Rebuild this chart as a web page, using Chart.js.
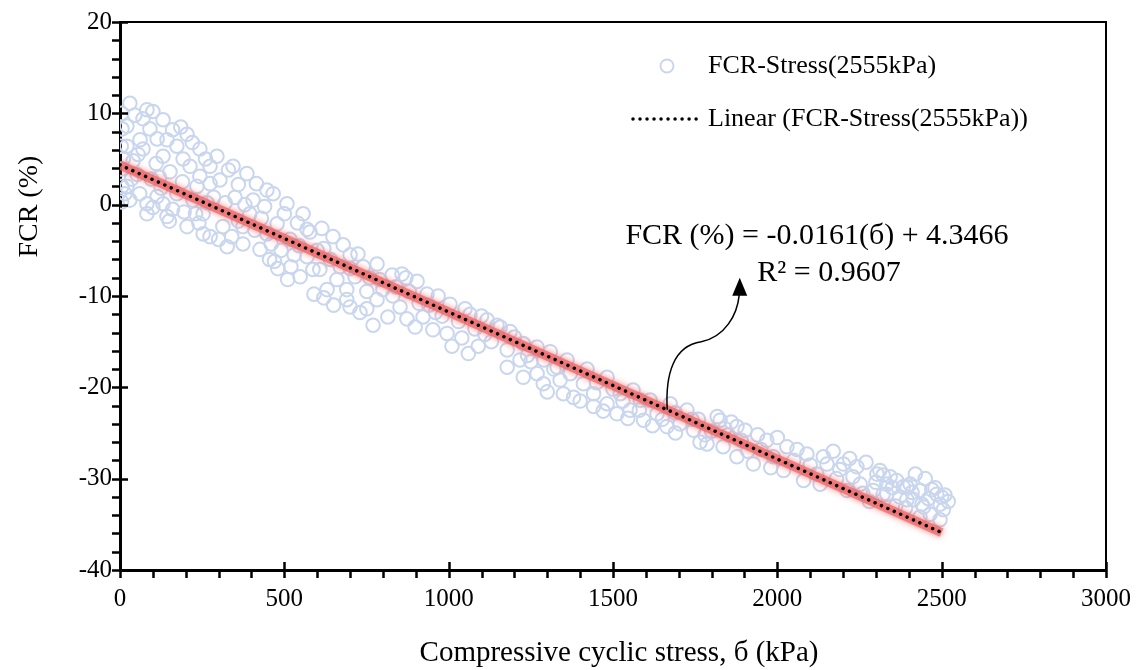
<!DOCTYPE html>
<html>
<head>
<meta charset="utf-8">
<script src="https://cdn.jsdelivr.net/npm/chart.js@4.4.1/dist/chart.umd.min.js"></script>
<style>
  html, body { margin: 0; padding: 0; background: #ffffff; }
  #wrap { width: 1140px; height: 670px; position: relative; }
</style>
</head>
<body>
<div id="wrap"><canvas id="c" width="1140" height="670"></canvas></div>
<script>
// ---- data ----
const stressX = [
  5,6,4,5,6,5,30,82,70,21,91,61,21,70,52,21,30,82,82,40,60,95,
  10,15,45,100,55,35,110,125,160,185,220,260,230,285,240,195,100,150,
  131,113,204,143,173,243,131,192,295,213,274,152,243,131,143,113,173,222,204,253,253,274,234,274,160,190,120,265,
  344,386,304,447,466,405,508,313,326,374,374,426,447,478,517,350,320,395,430,490,540,360,415,530,470,480,510,455,
  330,360,380,410,440,460,500,520,545,300,340,
  557,569,578,614,648,679,724,782,828,858,569,608,630,690,690,751,782,815,852,873,898,660,715,751,800,587,548,600,640,700,760,830,880,590,650,730,770,
  620,670,700,740,790,840,870,910,960,620,700,
  904,934,968,1004,1065,1117,1147,1187,922,952,995,1040,1090,1130,1157,1178,1178,940,980,1030,1080,1110,1010,1060,
  1050,1100,1200,1240,1290,1330,1370,1450,1500,1530,1580,1650,1690,1740,1780,1300,
  1227,1269,1309,1360,1421,1482,1561,1613,1674,1725,1217,1227,1269,1288,1339,1349,1380,1441,1441,1482,1512,1552,1593,1634,1664,1704,1745,1410,1522,1583,1250,1320,1400,1470,1545,1620,1690,1760,
  1765,1786,1826,1835,1877,1902,1877,1927,1968,1988,2029,2019,2090,2080,1817,1800,1850,1950,2000,2050,1910,1860,
  1840,1890,1940,1980,2060,2100,2130,2190,2220,2260,2300,2350,2410,2470,2500,2440,2390,
  2140,2151,2201,2212,2242,2252,2303,2292,2343,2333,2383,2404,2394,2322,2333,2363,2322,2373,2394,2434,2414,2445,2485,2495,2505,2465,2495,2434,2312,2120,2180,2170,2230,2270,2420,2450,2480,2510,2520,2460,2360,2280
];
const fcrY = [
  10.0,8.3,6.4,3.9,2.0,0.3,11.1,10.4,9.4,8.6,8.3,7.1,6.4,6.1,3.3,2.0,0.5,0.1,-1.0,4.8,1.2,2.8,
  5.0,1.2,9.8,10.2,5.5,2.8,4.5,1.8,8.2,8.5,6.8,5.0,-1.0,0.8,-2.0,-0.8,-0.3,-1.8,
  9.3,7.2,7.7,7.1,6.4,6.1,5.3,5.0,5.3,4.2,4.2,3.6,3.1,0.1,-1.3,0.9,1.2,0.5,-2.4,-1.0,-3.2,-3.5,2.0,2.3,-0.5,2.5,3.0,0.2,
  4.2,3.4,2.7,1.6,1.2,0.5,0.1,-2.4,-4.6,-4.3,-2.4,-4.9,-3.2,-2.1,-3.8,0.8,0.2,-1.0,-1.5,-5.0,-2.0,-1.8,2.3,-5.5,-6.2,-7.0,-8.2,-6.0,
  3.8,2.2,0.0,-2.8,-0.2,-4.3,-1.0,-6.8,-4.5,-3.8,-3.5,
  -1.0,-2.7,-3.0,-2.6,-3.5,-4.4,-5.4,-6.5,-7.7,-7.6,-5.7,-7.1,-9.3,-10.4,-9.3,-11.4,-10.4,-12.3,-11.2,-12.5,-13.4,-8.2,-7.9,-9.5,-9.3,-7.1,-7.9,-5.0,-6.0,-7.0,-8.0,-10.0,-9.5,-9.8,-11.0,-11.8,-13.2,
  -4.8,-6.8,-5.5,-6.8,-8.2,-9.0,-8.0,-10.8,-11.8,-10.2,-11.2,
  -8.4,-9.8,-10.0,-10.9,-12.0,-12.6,-13.2,-13.9,-12.3,-13.7,-14.1,-14.6,-15.5,-15.0,-13.4,-15.9,-17.8,-11.0,-12.2,-12.8,-13.6,-14.2,-15.5,-16.3,
  -11.4,-12.2,-14.5,-16.5,-17.0,-17.8,-18.5,-19.5,-20.2,-21.5,-22.5,-23.5,-22.8,-23.5,-25.2,-20.5,
  -15.2,-15.6,-16.1,-17.0,-18.0,-18.9,-20.3,-21.4,-21.8,-22.5,-17.0,-18.9,-18.5,-19.6,-19.2,-20.7,-21.1,-20.7,-22.1,-21.8,-22.9,-22.5,-23.6,-22.9,-24.3,-24.0,-24.7,-19.6,-20.7,-21.4,-17.2,-18.0,-21.5,-22.6,-23.4,-24.2,-25.0,-23.5,
  -26.0,-26.2,-23.6,-26.5,-24.3,-24.7,-27.6,-28.4,-25.8,-27.6,-26.5,-29.1,-27.3,-30.2,-23.2,-24.8,-25.2,-26.8,-25.5,-28.0,-27.0,-23.8,
  -24.5,-25.8,-25.2,-28.8,-26.8,-28.5,-30.6,-29.0,-27.8,-31.6,-30.4,-31.0,-31.5,-31.2,-32.0,-32.8,-33.2,
  -27.6,-28.4,-28.4,-31.3,-28.7,-30.6,-29.5,-31.3,-29.8,-31.7,-30.9,-30.6,-32.3,-29.6,-30.6,-30.2,-31.7,-32.0,-30.9,-31.3,-32.3,-33.1,-31.7,-32.8,-33.4,-33.9,-34.5,-34.2,-29.1,-29.5,-30.0,-27.0,-29.8,-28.2,-29.5,-30.0,-31.0,-31.8,-32.5,-32.2,-33.0,-32.5
];
// linear trendline endpoints (FCR = -0.0161*s + 4.3466), from 0 to 2500 kPa
const trendX = [0, 2500];
const trendY = [4.3466, -35.9034];
const xTicks = [0, 500, 1000, 1500, 2000, 2500, 3000];
const yTicks = [-40, -30, -20, -10, 0, 10, 20];
const seriesName = 'FCR-Stress(2555kPa)';
const trendName = 'Linear (FCR-Stress(2555kPa))';
const eqLine1 = 'FCR (%) = -0.0161(б) + 4.3466';
const eqLine2 = 'R² = 0.9607';
const xTitle = 'Compressive cyclic stress, б (kPa)';
const yTitle = 'FCR (%)';

const FONT = '"Liberation Serif", "Times New Roman", serif';
const CIRCLE_COLOR = '#c9d6ee';

const scatterPts = stressX.map((x, i) => ({ x: x, y: fcrY[i] }));
const trendPts = trendX.map((x, i) => ({ x: x, y: trendY[i] }));

const decor = {
  id: 'decor',
  beforeDatasetDraw(chart, args) {
    if (args.index === 1) {
      const ctx = chart.ctx;
      ctx.save();
      ctx.shadowColor = 'rgba(240,80,80,0.9)';
      ctx.shadowBlur = 6;
    }
  },
  afterDatasetDraw(chart, args) {
    if (args.index === 1) chart.ctx.restore();
  },
  afterDraw(chart) {
    const ctx = chart.ctx;
    const xs = chart.scales.x, ys = chart.scales.y;
    const a = chart.chartArea;
    ctx.save();
    ctx.strokeStyle = '#000';
    // frame top / right
    ctx.lineWidth = 2;
    ctx.beginPath();
    ctx.moveTo(a.left, a.top); ctx.lineTo(a.right, a.top); ctx.lineTo(a.right, a.bottom);
    ctx.stroke();
    // axis ticks
    ctx.lineWidth = 2.5;
    ctx.beginPath();
    for (let v = -40; v <= 20; v += 2) {
      const py = Math.round(ys.getPixelForValue(v)) + 0.5;
      const major = (v % 10 === 0);
      ctx.moveTo(a.left - 8, py);
      ctx.lineTo(major ? a.left + 8 : a.left, py);
    }
    for (let v = 0; v <= 3000; v += 100) {
      const px = Math.round(xs.getPixelForValue(v)) + 0.5;
      const major = (v % 500 === 0);
      ctx.moveTo(px, a.bottom + 8);
      ctx.lineTo(px, major ? a.bottom - 8 : a.bottom);
    }
    ctx.stroke();

    // axis titles
    ctx.fillStyle = '#000';
    ctx.font = '29px ' + FONT;
    ctx.textAlign = 'center';
    ctx.textBaseline = 'middle';
    ctx.fillText(xTitle, (a.left + a.right) / 2 + 6, 653);
    ctx.font = '28px ' + FONT;
    ctx.save();
    ctx.translate(30, ys.getPixelForValue(0) + 2);
    ctx.rotate(-Math.PI / 2);
    ctx.fillText(yTitle, 0, 0);
    ctx.restore();

    // legend
    ctx.font = '26px ' + FONT;
    ctx.textAlign = 'left';
    ctx.textBaseline = 'middle';
    ctx.strokeStyle = CIRCLE_COLOR;
    ctx.lineWidth = 2;
    ctx.beginPath();
    ctx.arc(667, 66, 6.5, 0, Math.PI * 2);
    ctx.stroke();
    ctx.fillText(seriesName, 708, 66);
    ctx.strokeStyle = '#000';
    ctx.lineWidth = 3.5;
    ctx.lineCap = 'round';
    ctx.setLineDash([0.01, 7]);
    ctx.beginPath();
    ctx.moveTo(633, 119); ctx.lineTo(700, 119);
    ctx.stroke();
    ctx.setLineDash([]);
    ctx.lineCap = 'butt';
    ctx.fillText(trendName, 708, 119);

    // equation label
    ctx.font = '30px ' + FONT;
    ctx.textAlign = 'center';
    ctx.textBaseline = 'alphabetic';
    ctx.fillText(eqLine1, 817, 244);
    ctx.fillText(eqLine2, 829, 281);

    // curved arrow from the trend line to the label
    const sx = xs.getPixelForValue(1665);
    const sy = ys.getPixelForValue(4.3466 - 0.0161 * 1665);
    ctx.strokeStyle = '#000';
    ctx.lineWidth = 1.5;
    ctx.beginPath();
    ctx.moveTo(sx, sy);
    ctx.bezierCurveTo(sx - 2, sy - 35, sx + 6, sy - 64, sx + 34, sy - 68);
    ctx.bezierCurveTo(sx + 58, sy - 73, sx + 70, sy - 95, sx + 72, sy - 115);
    ctx.stroke();
    ctx.beginPath();
    ctx.moveTo(sx + 72.5, sy - 132);
    ctx.lineTo(sx + 65, sy - 114);
    ctx.lineTo(sx + 80, sy - 114);
    ctx.closePath();
    ctx.fillStyle = '#000';
    ctx.fill();
    ctx.restore();
  }
};

new Chart(document.getElementById('c'), {
  type: 'scatter',
  data: {
    datasets: [
      {
        label: seriesName,
        data: scatterPts,
        pointStyle: 'circle',
        pointRadius: 6.8,
        pointBorderWidth: 2,
        pointBorderColor: CIRCLE_COLOR,
        pointBackgroundColor: 'rgba(0,0,0,0)',
        borderColor: CIRCLE_COLOR,
        backgroundColor: 'rgba(0,0,0,0)',
        showLine: false,
        order: 3
      },
      {
        label: 'glow',
        data: trendPts,
        type: 'line',
        showLine: true,
        borderColor: 'rgba(238,105,105,0.75)',
        borderWidth: 9,
        pointRadius: 0,
        fill: false,
        order: 2
      },
      {
        label: trendName,
        data: trendPts,
        type: 'line',
        showLine: true,
        borderColor: '#000',
        borderWidth: 3.5,
        borderDash: [0.01, 7],
        borderCapStyle: 'round',
        pointRadius: 0,
        fill: false,
        order: 1
      }
    ]
  },
  options: {
    responsive: false,
    animation: false,
    events: [],
    layout: { padding: { top: 22, right: 34, left: 0, bottom: 0 } },
    plugins: { legend: { display: false }, tooltip: { enabled: false } },
    scales: {
      x: {
        type: 'linear', min: 0, max: 3000,
        afterBuildTicks(s) { s.ticks = xTicks.map(v => ({ value: v })); },
        afterFit(s) { s.height = 100; s.paddingLeft = 0; s.paddingRight = 0; },
        grid: { display: false, drawTicks: false },
        border: { display: true, color: '#000', width: 3 },
        ticks: { color: '#000', padding: 14, font: { family: FONT, size: 25 }, maxRotation: 0,
                 callback: v => String(v) }
      },
      y: {
        type: 'linear', min: -40, max: 20,
        afterBuildTicks(s) { s.ticks = yTicks.map(v => ({ value: v })); },
        afterFit(s) { s.width = 120; s.paddingTop = 0; s.paddingBottom = 0; },
        grid: { display: false, drawTicks: false },
        border: { display: true, color: '#000', width: 3 },
        ticks: { color: '#000', padding: 8, font: { family: FONT, size: 25 },
                 callback: v => String(v) }
      }
    }
  },
  plugins: [decor]
});
</script>
</body>
</html>
